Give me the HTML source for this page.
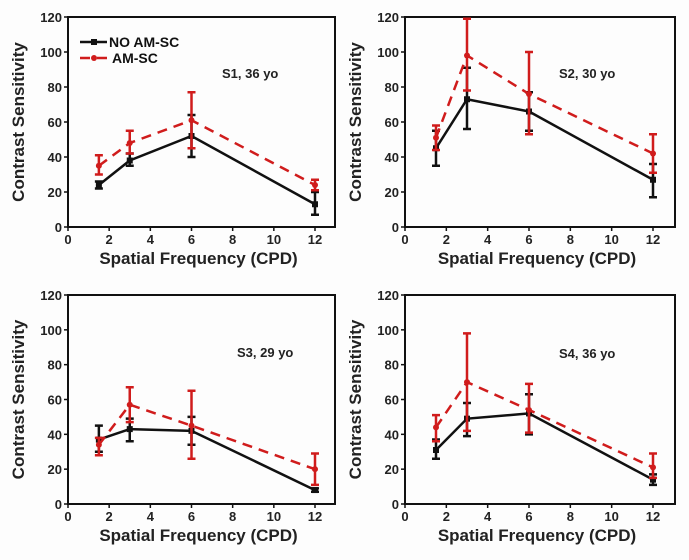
<!DOCTYPE html>
<html><head><meta charset="utf-8"><style>
body{margin:0;background:#fdfdfd;}
svg{display:block;font-family:"Liberation Sans",Arial,sans-serif;font-weight:bold;}
</style></head><body>
<svg id="c" width="689" height="560"></svg>
<script>
const xs=[1.5,3,6,12];
const s1Black=[24,38,52,13], s1BlackLo=[22,35,40,7], s1BlackHi=[26,42,64,20];
const s1Red=[35,48,61,24], s1RedLo=[30,42,45,21], s1RedHi=[41,55,77,27];
const s2Black=[45,73,66,27], s2BlackLo=[35,56,55,17], s2BlackHi=[55,91,77,36];
const s2Red=[51,98,76,42], s2RedLo=[44,78,53,31], s2RedHi=[58,119,100,53];
const s3Black=[37,43,42,8], s3BlackLo=[30,36,34,7], s3BlackHi=[45,49,50,9];
const s3Red=[34,57,45,20], s3RedLo=[28,47,26,11], s3RedHi=[38,67,65,29];
const s4Black=[31,49,52,14], s4BlackLo=[26,39,40,11], s4BlackHi=[37,58,63,17];
const s4Red=[44,70,54,21], s4RedLo=[36,42,41,15], s4RedHi=[51,98,69,29];
const xTicks=[0,2,4,6,8,10,12], yTicks=[0,20,40,60,80,100,120];
const labels=["S1,  36 yo","S2,  30 yo","S3,  29 yo","S4,  36 yo"];
const NS="http://www.w3.org/2000/svg", svg=document.getElementById('c');
function mk(t,a,p){const e=document.createElementNS(NS,t);for(const k in a)e.setAttribute(k,a[k]);(p||svg).appendChild(e);return e;}
const panels=[
 {L:68,R:335,T:17,B:227,x12:315,b:s1Black,bl:s1BlackLo,bh:s1BlackHi,r:s1Red,rl:s1RedLo,rh:s1RedHi,ax:222,ay:78,leg:true},
 {L:405,R:675,T:17,B:227,x12:653,b:s2Black,bl:s2BlackLo,bh:s2BlackHi,r:s2Red,rl:s2RedLo,rh:s2RedHi,ax:559,ay:78},
 {L:68,R:335,T:295,B:504,x12:315,b:s3Black,bl:s3BlackLo,bh:s3BlackHi,r:s3Red,rl:s3RedLo,rh:s3RedHi,ax:237,ay:357},
 {L:405,R:675,T:295,B:504,x12:653,b:s4Black,bl:s4BlackLo,bh:s4BlackHi,r:s4Red,rl:s4RedLo,rh:s4RedHi,ax:559,ay:358}];
panels.forEach((p,i)=>{
 const g=mk('g',{});
 
 
 const X=v=>p.L+(p.x12-p.L)*v/12, Y=v=>p.B-(p.B-p.T)*v/120;
 const fr=mk('rect',{x:p.L,y:p.T,width:p.R-p.L,height:p.B-p.T,fill:'none',stroke:'#111','stroke-width':2},g);
 
 xTicks.forEach(t=>{mk('line',{x1:X(t),x2:X(t),y1:p.B,y2:p.B+4,stroke:'#111','stroke-width':1.5},g);
  const tx=mk('text',{x:X(t),y:p.B+17,'text-anchor':'middle','font-size':13,fill:'#222'},g);tx.textContent=t;
  });
 yTicks.forEach(t=>{mk('line',{x1:p.L-4,x2:p.L,y1:Y(t),y2:Y(t),stroke:'#111','stroke-width':1.5},g);
  const tx=mk('text',{x:p.L-6,y:Y(t)+5,'text-anchor':'end','font-size':13,fill:'#222'},g);tx.textContent=t;
  });
 const xt=mk('text',{x:(p.L+p.R)/2-3,y:p.B+37,'text-anchor':'middle','font-size':17,fill:'#222'},g);xt.textContent='Spatial Frequency (CPD)';
 
 const yt=mk('text',{x:0,y:0,'text-anchor':'middle','font-size':17,fill:'#222',transform:`translate(${p.L-44},${(p.T+p.B)/2}) rotate(-90)`},g);yt.textContent='Contrast Sensitivity';
 
 const an=mk('text',{x:p.ax,y:p.ay,'font-size':13,fill:'#222'},g);an.textContent=labels[i];
 
 [[p.b,p.bl,p.bh,'#111',null,'no-am-sc'],[p.r,p.rl,p.rh,'#d01c1c','10,7','am-sc']].forEach(([v,lo,hi,c,d,nm])=>{
  const pl=mk('polyline',{points:xs.map((x,k)=>X(x)+','+Y(v[k])).join(' '),fill:'none',stroke:c,'stroke-width':2.5},g);
  if(d)pl.setAttribute('stroke-dasharray',d);
  
  xs.forEach((x,k)=>{const cx=X(x);
   const eb=mk('path',{d:`M${cx},${Y(lo[k])}V${Y(hi[k])}M${cx-4},${Y(lo[k])}h8M${cx-4},${Y(hi[k])}h8`,stroke:c,'stroke-width':2.5,fill:'none'},g);
   
   const m=nm==='am-sc'?mk('circle',{cx:cx,cy:Y(v[k]),r:3,fill:c},g):mk('rect',{x:cx-3,y:Y(v[k])-3,width:6,height:6,fill:c},g);
   });
 });
 if(p.leg){
  const lg=mk('g',{},g);
  mk('line',{x1:80,x2:107,y1:42,y2:42,stroke:'#111','stroke-width':2.5},lg);mk('rect',{x:91,y:39,width:6,height:6,fill:'#111'},lg);
  const t1=mk('text',{x:109,y:47,'font-size':14,fill:'#111'},lg);t1.textContent='NO AM-SC';
  
  mk('line',{x1:80,x2:107,y1:58,y2:58,stroke:'#d01c1c','stroke-width':2.5,'stroke-dasharray':'10,7'},lg);mk('circle',{cx:94,cy:58,r:3,fill:'#d01c1c'},lg);
  const t2=mk('text',{x:112,y:63,'font-size':14,fill:'#111'},lg);t2.textContent='AM-SC';
  
 }
});
</script>
</body></html>
